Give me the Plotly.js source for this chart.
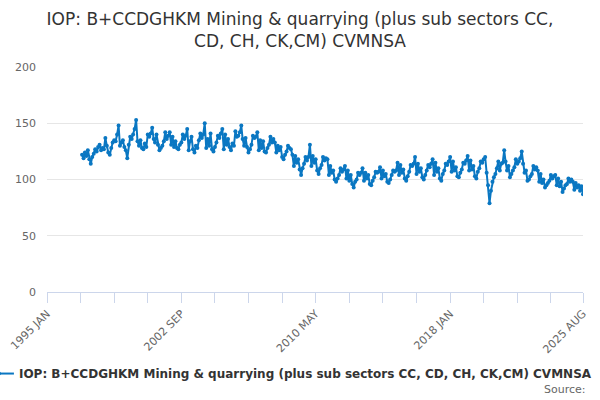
<!DOCTYPE html>
<html>
<head>
<meta charset="utf-8">
<script src="https://cdn.plot.ly/plotly-3.0.1.min.js"></script>
<style>
  html, body { margin: 0; padding: 0; background: #fff; }
  #chart { width: 600px; height: 400px; }
</style>
</head>
<body>
<div id="chart"></div>
<script>
// Monthly index values (CVM NSA), one array per year.
const y1997 = [122, 119, 124, 121, 126, 118, 114, 120, 123, 127, 125, 129];
const y1998 = [131, 126, 128, 127, 137, 130, 124, 122, 128, 133, 135, 134];
const y1999 = [140, 148, 130, 133, 135, 129, 126, 119, 131, 138, 136, 140];
const y2000 = [145, 153, 134, 130, 135, 128, 127, 132, 129, 140, 138, 141];
const y2001 = [146, 136, 133, 140, 131, 126, 128, 130, 134, 142, 136, 139];
const y2002 = [142, 131, 138, 129, 134, 128, 127, 131, 133, 140, 136, 139];
const y2003 = [145, 126, 134, 138, 127, 124, 130, 128, 135, 141, 137, 140];
const y2004 = [150, 128, 136, 130, 141, 127, 125, 129, 133, 139, 137, 141];
const y2005 = [145, 127, 140, 131, 136, 129, 126, 132, 130, 143, 138, 139];
const y2006 = [142, 148, 136, 130, 137, 129, 124, 127, 131, 139, 137, 138];
const y2007 = [142, 126, 135, 128, 134, 125, 124, 128, 131, 138, 133, 136];
const y2008 = [133, 124, 130, 126, 129, 120, 118, 122, 125, 130, 128, 127];
const y2009 = [122, 112, 121, 115, 118, 109, 104, 110, 114, 120, 117, 120];
const y2010 = [131, 112, 121, 115, 118, 108, 105, 110, 113, 120, 117, 119];
const y2011 = [118, 104, 112, 106, 108, 100, 98, 101, 104, 110, 107, 109];
const y2012 = [112, 101, 108, 99, 104, 96, 93, 98, 100, 106, 104, 106];
const y2013 = [110, 99, 106, 101, 104, 96, 95, 99, 102, 107, 106, 107];
const y2014 = [111, 101, 108, 103, 105, 98, 97, 100, 104, 108, 107, 108];
const y2015 = [115, 104, 113, 106, 109, 101, 99, 103, 107, 113, 112, 114];
const y2016 = [120, 105, 114, 107, 110, 102, 100, 104, 108, 113, 111, 114];
const y2017 = [118, 104, 115, 107, 110, 101, 99, 105, 108, 114, 113, 116];
const y2018 = [120, 107, 116, 108, 111, 103, 102, 106, 109, 115, 114, 117];
const y2019 = [121, 108, 117, 109, 112, 103, 101, 107, 110, 116, 115, 118];
const y2020 = [120, 106, 95, 79, 90, 98, 102, 105, 110, 116, 108, 114];
const y2021 = [115, 126, 116, 108, 112, 102, 105, 108, 111, 118, 114, 116];
const y2022 = [119, 125, 114, 106, 108, 99, 100, 103, 105, 112, 109, 111];
const y2023 = [108, 98, 105, 97, 100, 93, 95, 97, 99, 104, 101, 103];
const y2024 = [104, 95, 101, 94, 98, 89, 92, 95, 96, 101, 98, 100];
const y2025 = [98, 91, 97, 93, 95, 90, 94, 87];

const years = [
  y1997, y1998, y1999, y2000, y2001, y2002, y2003, y2004, y2005, y2006,
  y2007, y2008, y2009, y2010, y2011, y2012, y2013, y2014, y2015, y2016,
  y2017, y2018, y2019, y2020, y2021, y2022, y2023, y2024, y2025
];
const firstYear = 1997;

// Labelled x ticks.
const tickDates = ['1995-01-01', '2002-09-01', '2010-05-01', '2018-01-01', '2025-08-01'];
const tickLabels = ['1995 JAN', '2002 SEP', '2010 MAY', '2018 JAN', '2025 AUG'];

const seriesName = 'IOP: B+CCDGHKM Mining & quarrying (plus sub sectors CC, CD, CH, CK,CM) CVMNSA';

// Build the date / value pairs from the yearly arrays.
const dates = [];
const values = [];
years.forEach((months, i) => {
  months.forEach((v, m) => {
    const mm = String(m + 1).padStart(2, '0');
    dates.push(`${firstYear + i}-${mm}-01`);
    values.push(v);
  });
});

const font = 'DejaVu Sans, Verdana, sans-serif';

const trace = {
  x: dates,
  y: values,
  type: 'scatter',
  mode: 'lines+markers',
  name: seriesName,
  line: { color: '#0a77c2', width: 2 },
  marker: { color: '#0a77c2', size: 4 },
  hoverinfo: 'x+y'
};

const layout = {
  width: 600,
  height: 400,
  // Fixed margins so the legend sitting left of the plot does not push them.
  margin: { l: 47, r: 17, t: 67, b: 108, autoexpand: false },
  paper_bgcolor: '#ffffff',
  plot_bgcolor: '#ffffff',
  font: { family: font, color: '#666666', size: 11 },
  title: {
    text: 'IOP: B+CCDGHKM Mining & quarrying (plus sub sectors CC,<br>CD, CH, CK,CM) CVMNSA',
    x: 0.5,
    xanchor: 'center',
    yref: 'container',
    y: 0.9375,
    yanchor: 'top',
    automargin: false,
    font: { family: font, size: 17, color: '#333333' }
  },
  xaxis: {
    type: 'date',
    automargin: false,
    range: ['1995-01-01', '2025-08-01'],
    tickvals: tickDates,
    ticktext: tickLabels,
    tickangle: -45,
    ticks: 'outside',
    ticklen: 10,
    tickcolor: '#ccd6eb',
    showline: true,
    linecolor: '#ccd6eb',
    linewidth: 1,
    showgrid: false,
    zeroline: false,
    minor: {
      tick0: '1995-01-01',
      dtick: 'M23',
      ticks: 'outside',
      ticklen: 10,
      tickcolor: '#ccd6eb',
      showgrid: false
    },
    tickfont: { family: font, size: 11, color: '#666666' }
  },
  yaxis: {
    automargin: false,
    range: [0, 200],
    tickvals: [0, 50, 100, 150, 200],
    showgrid: true,
    gridcolor: '#e6e6e6',
    gridwidth: 1,
    zeroline: false,
    showline: false,
    ticks: '',
    ticklabelstandoff: 10,
    tickfont: { family: font, size: 11, color: '#666666' }
  },
  showlegend: true,
  legend: {
    orientation: 'h',
    x: -0.127,
    xanchor: 'left',
    y: -0.298,
    yanchor: 'top',
    font: { family: font, size: 12, color: '#333333', weight: 'bold' },
    bgcolor: 'rgba(0,0,0,0)'
  },
  annotations: [
    {
      text: 'Source:',
      xref: 'paper',
      yref: 'paper',
      x: 1.009,
      xanchor: 'right',
      y: -0.396,
      yanchor: 'top',
      showarrow: false,
      font: { family: font, size: 11, color: '#666666' }
    }
  ]
};

Plotly.newPlot('chart', [trace], layout, { displayModeBar: false, staticPlot: true });
</script>
</body>
</html>
